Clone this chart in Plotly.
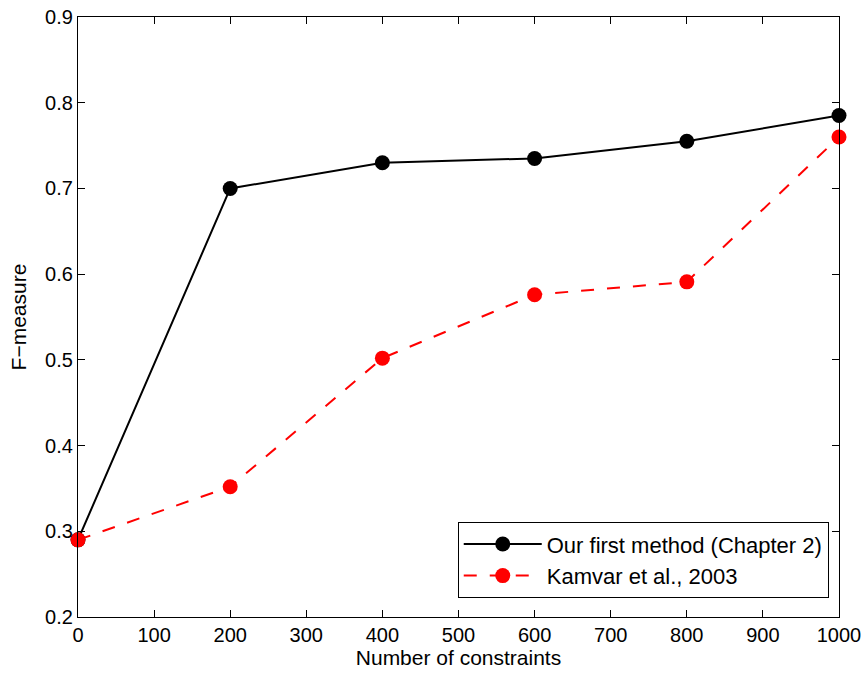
import plotly.graph_objects as go

constraints = [0, 200, 400, 600, 800, 1000]
ours = [0.29, 0.70, 0.73, 0.735, 0.755, 0.785]
kamvar = [0.29, 0.352, 0.502, 0.576, 0.591, 0.760]

x_ticks = list(range(0, 1001, 100))
y_ticks = [0.2, 0.3, 0.4, 0.5, 0.6, 0.7, 0.8, 0.9]

FONT = "Liberation Sans, Arial, sans-serif"

fig = go.Figure()
fig.add_trace(go.Scatter(
    x=constraints, y=ours, mode="lines+markers",
    name="Our first method (Chapter 2)",
    line=dict(color="black", width=2),
    marker=dict(color="black", size=15),
    cliponaxis=False,
))
fig.add_trace(go.Scatter(
    x=constraints, y=kamvar, mode="lines+markers",
    name="Kamvar et al., 2003",
    line=dict(color="#ff0000", width=2, dash="13px,13px"),
    marker=dict(color="#ff0000", size=15),
    cliponaxis=False,
))

axis_common = dict(
    showgrid=False, zeroline=False, showline=True, linecolor="black",
    linewidth=1.3, mirror="ticks", ticks="inside", ticklen=7,
    tickcolor="black", tickwidth=1, automargin=False,
    tickfont=dict(family=FONT, size=20, color="black"),
)

fig.update_layout(
    width=867, height=678,
    margin=dict(l=78, r=28, t=17, b=61),
    paper_bgcolor="white", plot_bgcolor="white",
    font=dict(family=FONT, size=20, color="black"),
    xaxis=dict(range=[0, 1000], tickvals=x_ticks,
               ticktext=[str(v) for v in x_ticks],
               title=dict(text="Number of constraints", standoff=4,
                          font=dict(family=FONT, size=21, color="black")),
               **axis_common),
    yaxis=dict(range=[0.2, 0.9], tickvals=y_ticks,
               ticktext=[f"{v:.1f}" for v in y_ticks],
               title=dict(text="F\u2212measure", standoff=12,
                          font=dict(family=FONT, size=21, color="black")),
               **axis_common),
    legend=dict(x=0.499, y=0.158, xanchor="left", yanchor="top",
                bordercolor="black", borderwidth=1, bgcolor="white",
                font=dict(family=FONT, size=22, color="black"), itemwidth=78,
                tracegroupgap=0),
    showlegend=True,
)

fig.write_html("out.html")
